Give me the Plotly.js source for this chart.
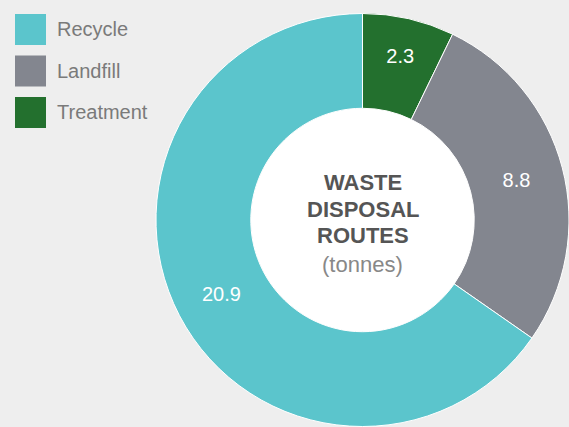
<!DOCTYPE html>
<html>
<head>
<meta charset="utf-8">
<script src="https://cdn.plot.ly/plotly-3.0.1.min.js"></script>
<style>html,body{margin:0;padding:0;background:#eeeeee;}#chart{width:569px;height:427px;}</style>
</head>
<body>
<div id="chart"></div>
<script>
// Data (legend order)
var categories = ["Recycle", "Landfill", "Treatment"];
var values = [20.9, 8.8, 2.3];
var colors = ["#5bc5cc", "#83868f", "#23702e"];
var centerLines = ["<b>WASTE</b>", "<b>DISPOSAL</b>", "<b>ROUTES</b>", "(tonnes)"];

var W = 569, H = 427;
var FONT = "Liberation Sans, Arial, Helvetica, sans-serif";
var cx = 363, cy = 220, R = 207, holeR = 112;

function px(x){ return x / W; }
function py(y){ return 1 - y / H; }

// slices are drawn clockwise from 12 o'clock in reverse legend order
var trace = {
  type: "pie",
  labels: categories.slice().reverse(),
  values: values.slice().reverse(),
  marker: { colors: colors.slice().reverse(), line: { color: "#ffffff", width: 1 } },
  hole: holeR / R,
  sort: false,
  direction: "clockwise",
  rotation: 0,
  textinfo: "value",
  textposition: "inside",
  insidetextorientation: "horizontal",
  textfont: { family: FONT, size: 20, color: "#ffffff" },
  domain: { x: [px(cx - R), 1], y: [py(cy + R), py(cy - R)] },
  hoverinfo: "none",
  showlegend: false
};

var shapes = [];
var annotations = [];

// white centre disc
shapes.push({
  type: "circle", xref: "paper", yref: "paper", layer: "below",
  x0: px(cx - holeR), x1: px(cx + holeR), y0: py(cy + holeR), y1: py(cy - holeR),
  fillcolor: "#ffffff", line: { width: 0 }
});

// legend
var legTop = 14, legStep = 41.5, sq = 31;
categories.forEach(function(c, i){
  var y0 = legTop + i * legStep;
  shapes.push({
    type: "rect", xref: "paper", yref: "paper",
    x0: px(15), x1: px(15 + sq), y0: py(y0 + sq), y1: py(y0),
    fillcolor: colors[i], line: { width: 0 }
  });
  annotations.push({
    xref: "paper", yref: "paper", x: px(55), y: py(y0 + sq / 2),
    xanchor: "left", yanchor: "middle", showarrow: false,
    text: c, font: { family: FONT, size: 20, color: "#7a7a7a" }
  });
});

// centre text
var lineY = [181, 208, 235, 263];
centerLines.forEach(function(t, i){
  annotations.push({
    xref: "paper", yref: "paper", x: px(cx), y: py(lineY[i] + 1),
    xanchor: "center", yanchor: "middle", showarrow: false,
    text: t, font: { family: FONT, size: 22, color: i < 3 ? "#555555" : "#888888" }
  });
});

var layout = {
  width: W, height: H,
  margin: { l: 0, r: 0, t: 0, b: 0 },
  paper_bgcolor: "#eeeeee",
  plot_bgcolor: "#eeeeee",
  shapes: shapes,
  annotations: annotations,
  showlegend: false
};

Plotly.newPlot("chart", [trace], layout, { displayModeBar: false, staticPlot: true });
</script>
</body>
</html>
